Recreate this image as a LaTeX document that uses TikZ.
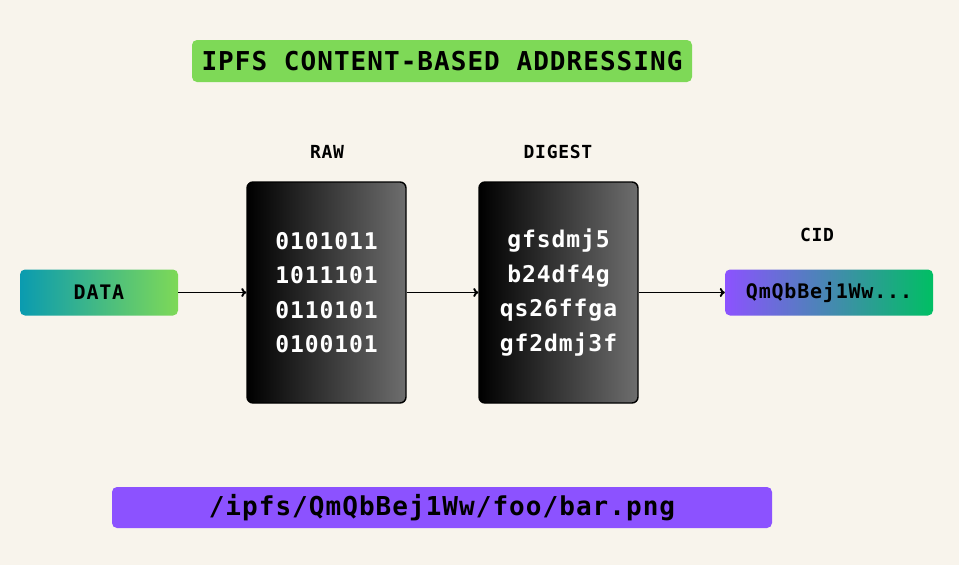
\documentclass[tikz,border=0pt]{standalone}
\usepackage{fontspec}
\setmonofont{DejaVu Sans Mono}[LetterSpace=4]
\usetikzlibrary{positioning,arrows.meta}

\definecolor{paper}{HTML}{F8F4EC}
\definecolor{ipfsgreen}{HTML}{7ED957}
\definecolor{ipfsteal}{HTML}{0A9BB0}
\definecolor{ipfspurple}{HTML}{8C52FF}
\definecolor{cidgreen}{HTML}{00BF63}

\tikzset{
  pill/.style={rounded corners=5pt, inner sep=0pt, font=\ttfamily\bfseries\fontsize{20}{24}\selectfont},
  hashbox/.style={draw=black, line width=1.4pt, rounded corners=6pt, inner sep=0pt,
    minimum width=159pt, minimum height=221pt, left color=black, right color=black!57,
    text=white, align=center, font=\ttfamily\bfseries\fontsize{23}{34.5}\selectfont},
  caption/.style={font=\ttfamily\bfseries\fontsize{18}{20}\selectfont},
  flow/.style={-{To[length=5pt,width=9pt]}, line width=1.9pt}
}

\begin{document}
\begin{tikzpicture}[x=1pt, y=-1pt]
      \fill [paper] (0,0) rectangle (959,565);
      \useasboundingbox (0,0) rectangle (959,565);
      % title
      \node [pill, fill=ipfsgreen, minimum width=500pt, minimum height=42pt,
        font=\ttfamily\bfseries\fontsize{26}{28}\selectfont] (title) at (442,61) {IPFS CONTENT-BASED ADDRESSING};
      % pipeline
      \node [pill, left color=ipfsteal, right color=ipfsgreen, minimum width=158pt, minimum height=46pt] (data) at (99,292.5) {DATA};
      \node [hashbox] (raw) at (326.5,292.5) {0101011\\1011101\\0110101\\0100101};
      \node [hashbox] (digest) at (558.5,292.5) {gfsdmj5\\b24df4g\\qs26ffga\\gf2dmj3f};
      \node [pill, left color=ipfspurple, right color=cidgreen, minimum width=208pt, minimum height=46pt] (cid) at (829,292.5) {QmQbBej1Ww...};
      \node [caption] (rawlbl) at (327,152) {RAW};
      \node [caption] (digestlbl) at (558,152) {DIGEST};
      \node [caption] (cidlbl) at (817,235) {CID};
      \draw [flow] (data) -- (raw);
      \draw [flow] (raw) -- (digest);
      \draw [flow] (digest) -- (cid);
      % path
      \node [pill, fill=ipfspurple, minimum width=660pt, minimum height=41pt,
        font=\ttfamily\bfseries\fontsize{26}{30}\selectfont] (path) at (442,507.5) {/ipfs/QmQbBej1Ww/foo/bar.png};
\end{tikzpicture}
\end{document}
